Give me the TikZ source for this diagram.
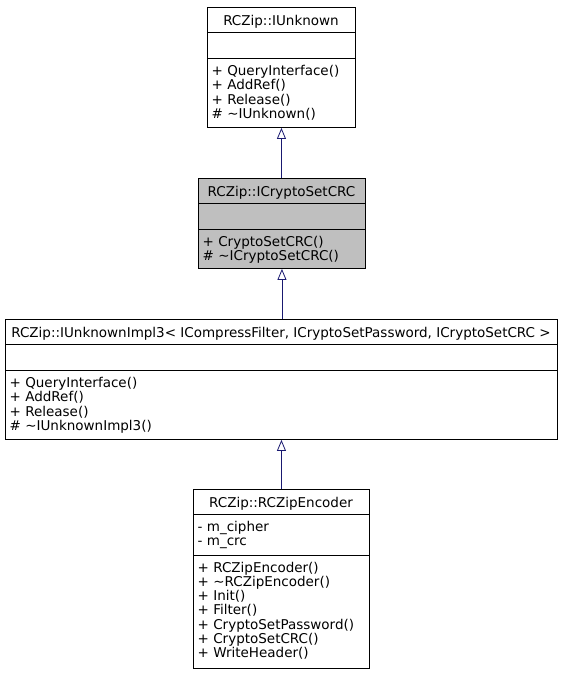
\documentclass[tikz,border=0pt]{standalone}
\usepackage{fontspec}
\setmainfont{DejaVu Sans}
\usetikzlibrary{arrows.meta}
\definecolor{edgeblue}{HTML}{191970}
\definecolor{boxgray}{HTML}{BFBFBF}
\tikzset{
  umlbox/.style={draw=black, line width=0.9pt, fill=white, inner sep=0pt, anchor=north west},
  graybox/.style={umlbox, fill=boxgray},
  title/.style={anchor=base, inner sep=0pt, font=\fontsize{13.5}{14.5}\selectfont},
  member/.style={anchor=base west, inner sep=0pt, font=\fontsize{13.5}{14.5}\selectfont},
  sep/.style={line width=0.9pt},
  inherit/.style={draw=edgeblue, line width=0.8pt, -{Triangle[open, length=11pt, width=9pt, fill=white]}}
}
\begin{document}
\begin{tikzpicture}[x=1pt,y=-1pt]
\useasboundingbox (0,0) rectangle (563,675);
% Box 1: IUnknown
\node[umlbox, minimum width=148pt, minimum height=120pt] (b1) at (207,7) {};
\draw[sep] (207,32) -- (355,32);
\draw[sep] (207,58) -- (355,58);
\node[title] (b1t) at (281,25) {RCZip::IUnknown};
\node[member] (b1m1) at (211.5,75) {+ QueryInterface()};
\node[member] (b1m2) at (211.5,89.5) {+ AddRef()};
\node[member] (b1m3) at (211.5,104) {+ Release()};
\node[member] (b1m4) at (211.5,118.5) {\# \textasciitilde IUnknown()};
% Box 2: ICryptoSetCRC
\node[graybox, minimum width=167pt, minimum height=90pt] (b2) at (198,178) {};
\draw[sep] (198,203) -- (365,203);
\draw[sep] (198,229) -- (365,229);
\node[title] (b2t) at (281.5,196) {RCZip::ICryptoSetCRC};
\node[member] (b2m1) at (202.5,246) {+ CryptoSetCRC()};
\node[member] (b2m2) at (202.5,260.5) {\# \textasciitilde ICryptoSetCRC()};
% Box 3: IUnknownImpl3
\node[umlbox, minimum width=552pt, minimum height=120pt] (b3) at (5,319) {};
\draw[sep] (5,344) -- (557,344);
\draw[sep] (5,370) -- (557,370);
\node[title] (b3t) at (281,337) {RCZip::IUnknownImpl3< ICompressFilter, ICryptoSetPassword, ICryptoSetCRC >};
\node[member] (b3m1) at (9.5,387) {+ QueryInterface()};
\node[member] (b3m2) at (9.5,401.5) {+ AddRef()};
\node[member] (b3m3) at (9.5,416) {+ Release()};
\node[member] (b3m4) at (9.5,430.5) {\# \textasciitilde IUnknownImpl3()};
% Box 4: RCZipEncoder
\node[umlbox, minimum width=176pt, minimum height=179pt] (b4) at (193,489) {};
\draw[sep] (193,514) -- (369,514);
\draw[sep] (193,555) -- (369,555);
\node[title] (b4t) at (281,507) {RCZip::RCZipEncoder};
\node[member] (b4a1) at (197.5,531) {- m\_cipher};
\node[member] (b4a2) at (197.5,545.5) {- m\_crc};
\node[member] (b4m1) at (197.5,572) {+ RCZipEncoder()};
\node[member] (b4m2) at (197.5,586.3) {+ \textasciitilde RCZipEncoder()};
\node[member] (b4m3) at (197.5,600.6) {+ Init()};
\node[member] (b4m4) at (197.5,614.9) {+ Filter()};
\node[member] (b4m5) at (197.5,629.2) {+ CryptoSetPassword()};
\node[member] (b4m6) at (197.5,643.5) {+ CryptoSetCRC()};
\node[member] (b4m7) at (197.5,657.8) {+ WriteHeader()};
% Inheritance edges
\draw[inherit] (b2.north -| b1.south) -- (b1.south);
\draw[inherit] (b3.north -| b2.south) -- (b2.south);
\draw[inherit] (b4.north -| b3.south) -- (b3.south);
\end{tikzpicture}
\end{document}
